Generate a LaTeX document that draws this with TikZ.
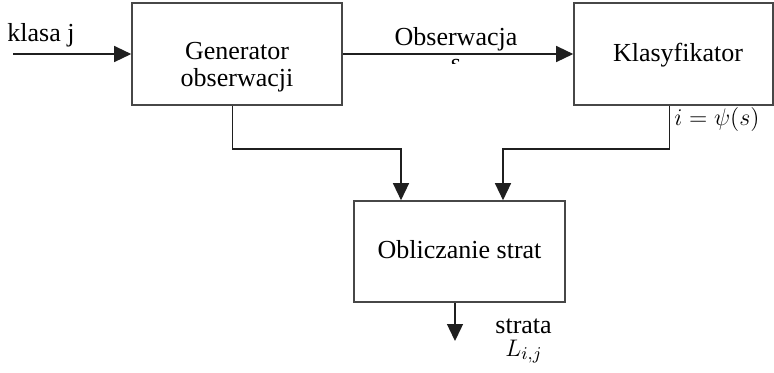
\documentclass[tikz,border=0pt]{standalone}
\usepackage{fontspec}
\setmainfont{Liberation Serif}
\usetikzlibrary{arrows.meta,calc}
\begin{document}
\begin{tikzpicture}[x=0.5pt,y=-0.5pt,
  font=\fontsize{13}{13.5}\selectfont,
  blok/.style={draw=black!72,line width=0.8pt,rectangle,inner sep=0pt,align=center},
  arr/.style={draw=black!88,line width=0.65pt,-{Triangle[length=8.5pt,width=8pt]}},
  lbl/.style={inner sep=0pt}]
\useasboundingbox (0,0) rectangle (774,372);

% blocks
\node[blok,minimum width=105pt,minimum height=51pt] (gen) at (237,54) {};
\node[lbl,anchor=base] (gent1) at (237,59) {Generator};
\node[lbl,anchor=base] (gent2) at (237,86) {obserwacji};

\node[blok,minimum width=99.5pt,minimum height=51pt] (kla) at (673.5,54) {};
\node[lbl,anchor=base] (klat) at (678,61) {Klasyfikator};

\node[blok,minimum width=105.5pt,minimum height=50.5pt] (obl) at (459.5,251.5) {};
\node[lbl,anchor=base] (oblt) at (459.5,258) {Obliczanie strat};

% input
\coordinate (in) at (13,54);
\draw[arr] (in) -- (gen.west);
\node[lbl,anchor=base west] (klasa) at (7,41) {klasa j};

% observation
\draw[arr] (gen.east) -- (kla.west);
\node[lbl,anchor=base] (obs) at (456,45) {Obserwacja};
\begin{scope}
  \clip (440,57) rectangle (475,63.5);
  \node[lbl,anchor=base] (s) at (456,71) {s};
\end{scope}

% feeds into the loss block
\coordinate (b1) at (401,149);
\coordinate (b2) at (503,149);
\draw[arr] ($(gen.south west)+(101,0)$) |- (b1) -- (b1 |- obl.north);
\draw[arr] ($(kla.south west)+(96,0)$) |- (b2) -- (b2 |- obl.north);
\node[lbl,anchor=base west] (psi) at (674,125) {$i=\psi(s)$};

% output
\coordinate (out) at (455,341);
\draw[arr] (out |- obl.south) -- (out);
\node[lbl,anchor=base west] (strata) at (495,333) {strata};
\node[lbl,anchor=base west] (L) at (505,356) {$L_{i,j}$};
\end{tikzpicture}
\end{document}
